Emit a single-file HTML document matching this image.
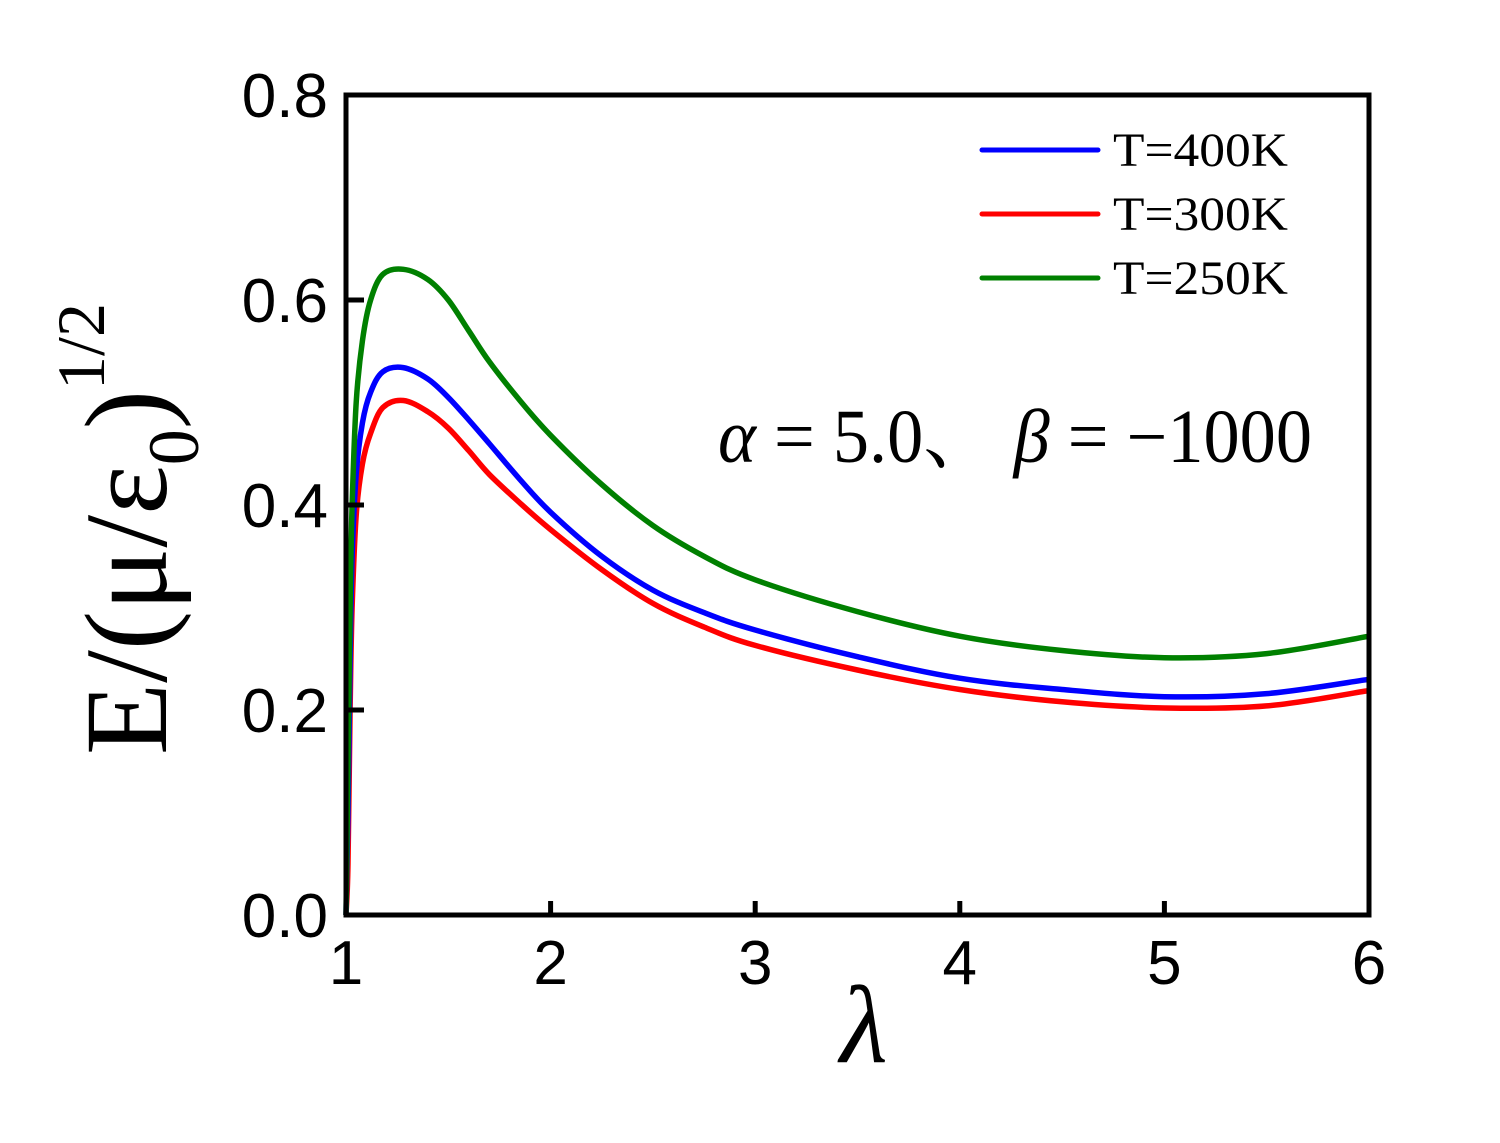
<!DOCTYPE html>
<html><head><meta charset="utf-8"><style>
html,body{margin:0;padding:0;background:#fff;}
svg{display:block;}
.tick{font-family:"Liberation Sans",sans-serif;font-size:62px;fill:#000;}
.serif{font-family:"Liberation Serif","Noto Serif CJK SC",serif;fill:#000;}
</style></head><body>
<svg id="chart" width="1500" height="1143" viewBox="0 0 1500 1143">
<g id="series"></g>
<rect x="346" y="95" width="1023" height="820" fill="none" stroke="#000" stroke-width="5"/>
<g id="axes"></g>
<g>
 <line x1="982" y1="150" x2="1098" y2="150" stroke="#0000ff" stroke-width="5" stroke-linecap="round"/>
 <text x="1113" y="166" class="serif" font-size="48" textLength="175" lengthAdjust="spacingAndGlyphs">T=400K</text>
 <line x1="982" y1="214" x2="1098" y2="214" stroke="#ff0000" stroke-width="5" stroke-linecap="round"/>
 <text x="1113" y="230" class="serif" font-size="48" textLength="175" lengthAdjust="spacingAndGlyphs">T=300K</text>
 <line x1="982" y1="278" x2="1098" y2="278" stroke="#008000" stroke-width="5" stroke-linecap="round"/>
 <text x="1113" y="294" class="serif" font-size="48" textLength="175" lengthAdjust="spacingAndGlyphs">T=250K</text>
</g>
<text x="718" y="462" class="serif" font-size="76" textLength="594" lengthAdjust="spacingAndGlyphs"><tspan font-style="italic">α</tspan> = 5.0、 <tspan font-style="italic">β</tspan> = −1000</text>
<text x="864" y="1062" class="serif" font-size="110" font-style="italic" text-anchor="middle">λ</text>
<text transform="translate(166,755) rotate(-90)" class="serif" font-size="118">E/(μ/ε<tspan font-size="72" dy="32">0</tspan><tspan dy="-32">)</tspan><tspan font-size="68" dy="-62">1/2</tspan></text>
</svg>
<script>
const xs=[1.0,1.01,1.02,1.03,1.05,1.08,1.12,1.18,1.28,1.4,1.5,1.6,1.7,1.85,2,2.25,2.5,2.75,3,3.5,4,4.5,5,5.5,6];
const green=[0.0,0.15,0.30,0.40,0.50,0.56,0.60,0.625,0.63,0.62,0.60,0.57,0.54,0.502,0.468,0.42,0.380,0.35,0.327,0.296,0.272,0.258,0.251,0.255,0.272];
const blue=[0.0,0.10,0.25,0.35,0.43,0.48,0.51,0.53,0.534,0.523,0.505,0.483,0.46,0.425,0.393,0.35,0.317,0.295,0.278,0.252,0.231,0.220,0.213,0.216,0.230];
const red=[0.0,0.05,0.20,0.30,0.39,0.44,0.47,0.495,0.502,0.491,0.475,0.453,0.43,0.402,0.376,0.337,0.304,0.281,0.263,0.239,0.220,0.208,0.202,0.204,0.219];
const xTicks=[1,2,3,4,5,6];
const yTicks=[0.0,0.2,0.4,0.6,0.8];
const X0=346,X1=1369,Y0=915,Y1=95;
function sx(v){return X0+(v-1)/5*(X1-X0);}
function sy(v){return Y0-v/0.8*(Y0-Y1);}
const NS="http://www.w3.org/2000/svg";
const sg=document.getElementById('series');
function smoothPath(pts){
  let d='M'+pts[0][0].toFixed(1)+','+pts[0][1].toFixed(1);
  for(let i=0;i<pts.length-1;i++){
    const p0=pts[i>0?i-1:i],p1=pts[i],p2=pts[i+1],p3=pts[i+2<pts.length?i+2:i+1];
    const c1x=p1[0]+(p2[0]-p0[0])/6,c1y=p1[1]+(p2[1]-p0[1])/6;
    const c2x=p2[0]-(p3[0]-p1[0])/6,c2y=p2[1]-(p3[1]-p1[1])/6;
    d+=' C'+c1x.toFixed(1)+','+c1y.toFixed(1)+' '+c2x.toFixed(1)+','+c2y.toFixed(1)+' '+p2[0].toFixed(1)+','+p2[1].toFixed(1);
  }
  return d;
}
function addLine(vals,color,name){
  const p=document.createElementNS(NS,'path');
  p.setAttribute('d',smoothPath(xs.map((x,i)=>[sx(x),sy(vals[i])])));
  p.setAttribute('fill','none');p.setAttribute('stroke',color);p.setAttribute('stroke-width','5.5');
  p.setAttribute('stroke-linejoin','round');
  
  
  sg.appendChild(p);
}
addLine(red,'#ff0000','line-300k');
addLine(blue,'#0000ff','line-400k');
addLine(green,'#008000','line-250k');
const ax=document.getElementById('axes');
xTicks.forEach(t=>{
  const l=document.createElementNS(NS,'line');
  l.setAttribute('x1',sx(t));l.setAttribute('x2',sx(t));l.setAttribute('y1',Y0);l.setAttribute('y2',Y0-14);
  l.setAttribute('stroke','#000');l.setAttribute('stroke-width','5');
  
  
  ax.appendChild(l);
  const tx=document.createElementNS(NS,'text');
  tx.setAttribute('x',sx(t));tx.setAttribute('y',984);tx.setAttribute('text-anchor','middle');tx.setAttribute('class','tick');
  tx.textContent=t;
  
  
  ax.appendChild(tx);
});
yTicks.forEach(t=>{
  const l=document.createElementNS(NS,'line');
  l.setAttribute('x1',X0);l.setAttribute('x2',X0+18);l.setAttribute('y1',sy(t));l.setAttribute('y2',sy(t));
  l.setAttribute('stroke','#000');l.setAttribute('stroke-width','5');
  
  
  ax.appendChild(l);
  const tx=document.createElementNS(NS,'text');
  tx.setAttribute('x',328);tx.setAttribute('y',sy(t)+22);tx.setAttribute('text-anchor','end');tx.setAttribute('class','tick');
  tx.textContent=t.toFixed(1);
  
  
  ax.appendChild(tx);
});
</script>
</body></html>
